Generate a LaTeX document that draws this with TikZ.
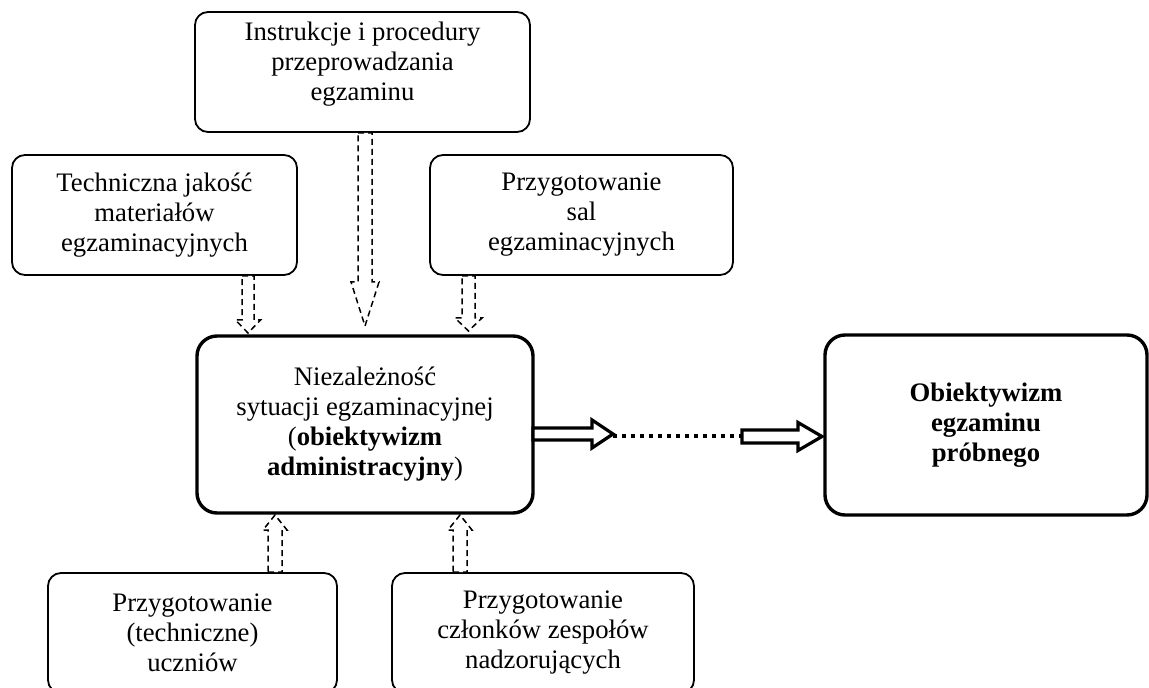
\documentclass[tikz,border=0pt]{standalone}
\usepackage{fontspec}
\setmainfont{Liberation Serif}
\newcommand\blockvert[6]{% cx, half shaft, half head, y tail, y head base, y tip
  \draw[dasharrow] (#1-#2,#4) -- (#1+#2,#4) -- (#1+#2,#5) -- (#1+#3,#5) -- (#1,#6) -- (#1-#3,#5) -- (#1-#2,#5) -- cycle;}
\newcommand\blockhor[6]{% cy, half shaft, half head, x tail, x head base, x tip
  \draw[solidarrow] (#4,#1-#2) -- (#5,#1-#2) -- (#5,#1-#3) -- (#6,#1) -- (#5,#1+#3) -- (#5,#1+#2) -- (#4,#1+#2) -- cycle;}
\begin{document}
\begin{tikzpicture}[x=0.5pt,y=-0.5pt,
  boxtext/.style={align=center, font=\fontsize{13.35}{15}\selectfont},
  thinbox/.style={boxtext, draw, line width=0.9pt, rounded corners=6.5pt, inner sep=0pt},
  thickbox/.style={boxtext, draw, line width=1.7pt, rounded corners=10pt, inner sep=0pt},
  dasharrow/.style={draw, line width=0.75pt, dash pattern=on 3pt off 2pt, fill=white, line join=miter},
  solidarrow/.style={draw, line width=1.6pt, fill=white, line join=miter},
  dotline/.style={draw, line width=2pt, dash pattern=on 2pt off 2.5pt}]
\useasboundingbox (0,0) rectangle (1149,688);
\clip (0,0) rectangle (1149,688);

% boxes
\node[thinbox, minimum width=167.5pt, minimum height=60pt] (top) at (362.5,72) {};
\node[boxtext] (toptext) at (362.5,64) {Instrukcje i procedury\\przeprowadzania\\egzaminu};
\node[thinbox, minimum width=142.5pt, minimum height=60pt] (tech) at (154.5,215) {Techniczna jakość\\materiałów\\egzaminacyjnych};
\node[thinbox, minimum width=151.5pt, minimum height=60pt] (sal) at (581.5,215) {Przygotowanie\\sal\\egzaminacyjnych};
\node[thickbox, minimum width=168pt, minimum height=88.5pt] (center) at (365,424.5) {Niezależność\\sytuacji egzaminacyjnej\\(\textbf{obiektywizm}\\\textbf{administracyjny})};
\node[thickbox, minimum width=161pt, minimum height=90pt] (right) at (986,425) {\textbf{Obiektywizm}\\\textbf{egzaminu}\\\textbf{próbnego}};
\node[thinbox, minimum width=144.5pt, minimum height=60pt] (bl) at (192.5,633) {Przygotowanie\\(techniczne)\\uczniów};
\node[thinbox, minimum width=151pt, minimum height=60pt] (br) at (543,633) {Przygotowanie\\członków zespołów\\nadzorujących};

% dashed block arrows (down)
\blockvert{248}{6}{12.5}{276}{320}{333}
\blockvert{365}{7}{14}{133}{282}{326}
\blockvert{468.5}{6.5}{13.5}{276}{318}{331}
% dashed block arrows (up)
\blockvert{275}{7}{12}{572}{530}{515}
\blockvert{460}{7}{12}{572}{530}{515}

% solid block arrows with dotted connector
\blockhor{434}{6}{14}{533}{592}{613}
\coordinate (d1) at (613,436);
\coordinate (d2) at (742,436);
\draw[dotline] (d1) -- (d2);
\blockhor{436.5}{6.5}{14}{742}{798}{822}
\end{tikzpicture}
\end{document}
